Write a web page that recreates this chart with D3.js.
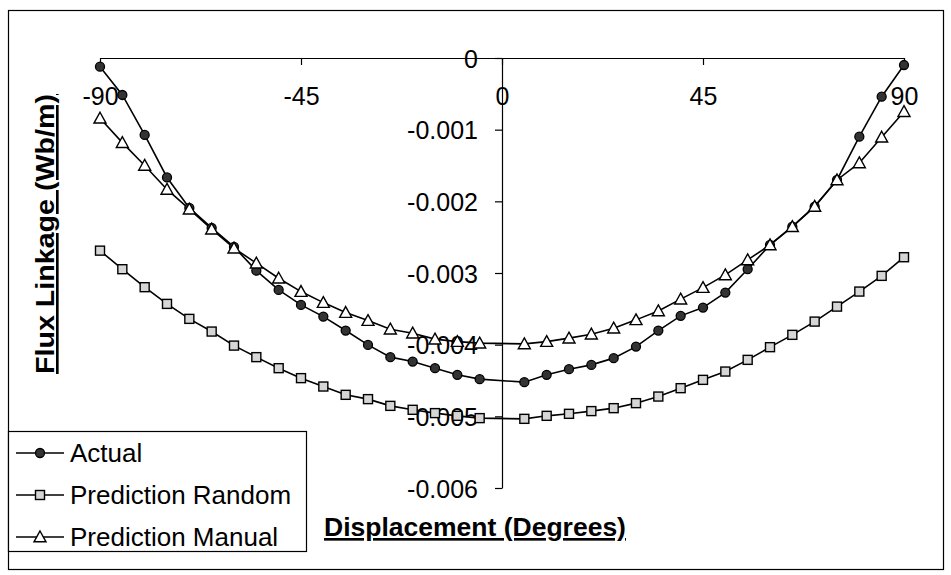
<!DOCTYPE html>
<html>
<head>
<meta charset="utf-8">
<script src="https://cdn.jsdelivr.net/npm/d3@7"></script>
<style>
html,body{margin:0;padding:0;background:#fff;}
svg{display:block;font-family:"Liberation Sans",Arial,Helvetica,sans-serif;}
</style>
</head>
<body>
<svg id="chart" width="951" height="575"></svg>
<script>
// ---- data ----
const degrees = [-90,-85,-80,-75,-70,-65,-60,-55,-50,-45,-40,-35,-30,-25,-20,-15,-10,-5,
                 5,10,15,20,25,30,35,40,45,50,55,60,65,70,75,80,85,90];
const actual = [-0.000121,-0.000516,-0.001074,-0.001667,-0.002092,-0.002371,-0.002636,-0.002967,-0.003236,
                -0.003445,-0.003608,-0.003803,-0.004003,-0.004174,-0.004236,-0.004328,-0.004421,-0.004481,
                -0.004523,-0.004421,-0.004342,-0.004282,-0.004188,-0.004027,-0.003803,-0.003598,-0.003483,
                -0.003273,-0.002947,-0.002608,-0.002353,-0.002074,-0.001702,-0.001098,-0.000540,-0.000098];
const predictionRandom = [-0.002688,-0.002947,-0.003198,-0.003431,-0.003640,-0.003817,-0.004013,-0.004174,-0.004328,
                -0.004467,-0.004584,-0.004700,-0.004760,-0.004854,-0.004909,-0.004955,-0.004993,-0.005025,
                -0.005035,-0.004993,-0.004965,-0.004927,-0.004886,-0.004816,-0.004724,-0.004607,-0.004491,
                -0.004375,-0.004212,-0.004035,-0.003863,-0.003678,-0.003469,-0.003259,-0.003040,-0.002780];
const predictionManual = [-0.000841,-0.001181,-0.001499,-0.001834,-0.002110,-0.002389,-0.002654,-0.002863,-0.003073,
                -0.003259,-0.003413,-0.003552,-0.003664,-0.003784,-0.003840,-0.003923,-0.003957,-0.003979,
                -0.003989,-0.003957,-0.003909,-0.003854,-0.003770,-0.003654,-0.003529,-0.003365,-0.003204,
                -0.003027,-0.002817,-0.002608,-0.002353,-0.002071,-0.001702,-0.001464,-0.001106,-0.000749];
const seriesNames = ["Actual","Prediction Random","Prediction Manual"];
const xTicks = [-90,-45,0,45,90];
const xTickLabels = ["-90","-45","0","45","90"];
const yTicks = [0,-0.001,-0.002,-0.003,-0.004,-0.005,-0.006];
const yTickLabels = ["0","-0.001","-0.002","-0.003","-0.004","-0.005","-0.006"];
const xTitle = "Displacement (Degrees)";
const yTitle = "Flux Linkage (Wb/m)";

// ---- drawing ----
const svg = d3.select("#chart");
const FONT = 25;

svg.append("rect").attr("x",8.5).attr("y",10.5).attr("width",935).attr("height",559)
  .attr("fill","#fff").attr("stroke","#000").attr("stroke-width",1.2);

const x = d3.scaleLinear().domain([-90,90]).range([100,904]);
const y = d3.scaleLinear().domain([-0.006,0]).range([488,58]);

// x axis at y=0
const gx = svg.append("g").attr("transform",`translate(0,${y(0)})`)
  .call(d3.axisBottom(x).tickValues(xTicks).tickFormat((d,i)=>xTickLabels[i])
        .tickSize(7).tickSizeOuter(0).tickPadding(22));
// y axis at x=0
const gy = svg.append("g").attr("transform",`translate(${x(0)},0)`)
  .call(d3.axisLeft(y).tickValues(yTicks).tickFormat((d,i)=>yTickLabels[i])
        .tickSize(7).tickSizeOuter(0).tickPadding(17));
[gx,gy].forEach(g=>{
  g.selectAll("path,line").attr("stroke","#000").attr("stroke-width",1.2);
  g.selectAll("text").attr("font-size",FONT).attr("fill","#000")
   .attr("font-family","'Liberation Sans',Arial,sans-serif");
});
gy.selectAll("text").attr("dy","0.36em");

const series = [
  {name:seriesNames[0], values:actual, type:"circle"},
  {name:seriesNames[1], values:predictionRandom, type:"square"},
  {name:seriesNames[2], values:predictionManual, type:"triangle"}
];

function drawMarker(g, type, cx, cy){
  if(type==="circle"){
    g.append("circle").attr("cx",cx).attr("cy",cy).attr("r",4.5)
      .attr("fill","#333").attr("stroke","#000").attr("stroke-width",1.3);
  } else if(type==="square"){
    g.append("rect").attr("x",cx-4.5).attr("y",cy-4.5).attr("width",9).attr("height",9)
      .attr("fill","#d6d6d6").attr("stroke","#000").attr("stroke-width",1.4);
  } else {
    const s=6;
    g.append("path").attr("d",`M${cx},${cy-s}L${cx+s},${cy+s*0.8}L${cx-s},${cy+s*0.8}Z`)
      .attr("fill","#fff").attr("stroke","#000").attr("stroke-width",1.4);
  }
}

const line = d3.line().x(d=>x(d[0])).y(d=>y(d[1]));
series.forEach(s=>{
  const pts = degrees.map((d,i)=>[d,s.values[i]]);
  svg.append("path").datum(pts).attr("d",line).attr("fill","none")
    .attr("stroke","#000").attr("stroke-width",1.6);
});
series.forEach(s=>{
  const g = svg.append("g");
  degrees.forEach((d,i)=>drawMarker(g, s.type, x(d), y(s.values[i])));
});

// titles
svg.append("text").attr("x",475).attr("y",536).attr("text-anchor","middle")
  .attr("font-size",26.5).attr("font-weight","bold").attr("text-decoration","underline")
  .text(xTitle);
svg.append("text").attr("transform","translate(54,234) rotate(-90)").attr("text-anchor","middle")
  .attr("font-size",26.5).attr("font-weight","bold").attr("text-decoration","underline")
  .attr("textLength",280).attr("lengthAdjust","spacingAndGlyphs")
  .text(yTitle);

// legend
const lg = svg.append("g");
lg.append("rect").attr("x",8.5).attr("y",431.5).attr("width",298).attr("height",120)
  .attr("fill","#fff").attr("stroke","#000").attr("stroke-width",1.2);
series.forEach((s,i)=>{
  const cy = 453 + i*42;
  lg.append("line").attr("x1",16).attr("x2",64).attr("y1",cy).attr("y2",cy)
    .attr("stroke","#000").attr("stroke-width",1.6);
  drawMarker(lg, s.type, 40, cy);
  lg.append("text").attr("x",70).attr("y",cy).attr("dy","0.36em")
    .attr("font-size",26).text(s.name);
});
</script>
</body>
</html>
